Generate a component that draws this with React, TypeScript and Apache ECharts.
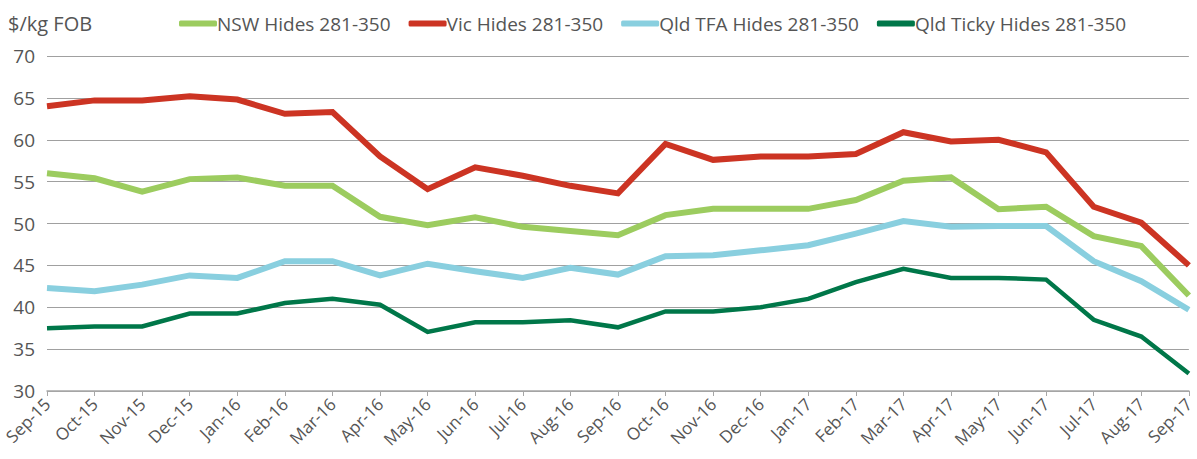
import React, { useEffect, useRef } from "react";
import * as echarts from "echarts";

const months = [
  "Sep-15", "Oct-15", "Nov-15", "Dec-15", "Jan-16", "Feb-16", "Mar-16", "Apr-16", "May-16",
  "Jun-16", "Jul-16", "Aug-16", "Sep-16", "Oct-16", "Nov-16", "Dec-16", "Jan-17", "Feb-17",
  "Mar-17", "Apr-17", "May-17", "Jun-17", "Jul-17", "Aug-17", "Sep-17",
];

const nsw = [56.0, 55.4, 53.8, 55.3, 55.5, 54.5, 54.5, 50.8, 49.8, 50.75, 49.6, 49.1, 48.6, 51.0, 51.75, 51.75, 51.75, 52.8, 55.1, 55.5, 51.7, 52.0, 48.5, 47.3, 41.4];
const vic = [64.0, 64.7, 64.7, 65.2, 64.8, 63.1, 63.3, 58.0, 54.1, 56.7, 55.7, 54.5, 53.6, 59.5, 57.6, 58.0, 58.0, 58.3, 60.9, 59.8, 60.0, 58.5, 52.0, 50.1, 45.0];
const qldTfa = [42.3, 41.9, 42.7, 43.8, 43.5, 45.5, 45.5, 43.8, 45.2, 44.3, 43.5, 44.7, 43.9, 46.1, 46.2, 46.8, 47.4, 48.8, 50.3, 49.6, 49.7, 49.7, 45.5, 43.1, 39.7];
const qldTicky = [37.5, 37.7, 37.7, 39.25, 39.25, 40.5, 41.0, 40.3, 37.05, 38.2, 38.2, 38.45, 37.6, 39.5, 39.5, 40.0, 41.0, 43.0, 44.6, 43.5, 43.5, 43.3, 38.5, 36.5, 32.1];

const seriesNames = ["NSW Hides 281-350", "Vic Hides 281-350", "Qld TFA Hides 281-350", "Qld Ticky Hides 281-350"];
const colors = ["#9ccc5f", "#cc3423", "#89cfdf", "#007749"];
const widths = [6, 6, 6, 4.5];

const FONT = "Open Sans";

export default function App() {
  const ref = useRef<HTMLDivElement>(null);
  useEffect(() => {
    if (!ref.current) return;
    const chart = echarts.init(ref.current, undefined, { renderer: "svg" });
    const data = [nsw, vic, qldTfa, qldTicky];
    chart.setOption({
      animation: false,
      textStyle: { fontFamily: FONT },
      graphic: [
        {
          type: "text",
          left: 8,
          top: 13,
          style: { text: "$/kg FOB", font: `20px "${FONT}"`, fill: "#555" },
        },
      ],
      legend: {
        top: 9,
        left: 174,
        itemWidth: 38,
        itemHeight: 6,
        itemGap: 18,
        icon: "roundRect",
        textStyle: { fontSize: 19, color: "#555", fontFamily: FONT, padding: [0, 0, 0, -5] },
        data: seriesNames,
      },
      grid: { left: 47, right: 7, top: 56, bottom: 68, containLabel: false },
      xAxis: {
        type: "category",
        data: months,
        boundaryGap: false,
        axisLine: { lineStyle: { color: "#a6a6a6", width: 1.5 } },
        axisTick: { show: true, alignWithLabel: true, length: 5, lineStyle: { color: "#a6a6a6" } },
        axisLabel: { rotate: 45, fontSize: 17, color: "#555", margin: 10, interval: 0, fontFamily: FONT },
      },
      yAxis: {
        type: "value",
        min: 30,
        max: 70,
        interval: 5,
        axisLine: { show: false },
        axisTick: { show: false },
        axisLabel: { fontSize: 19, color: "#555", margin: 12, fontFamily: FONT },
        splitLine: { lineStyle: { color: "#a0a0a0", width: 1.2 } },
      },
      series: seriesNames.map((name, i) => ({
        name,
        type: "line",
        data: data[i],
        symbol: "none",
        color: colors[i],
        lineStyle: { width: widths[i], color: colors[i], join: "miter" },
        z: 2 + i,
      })),
    });
    return () => chart.dispose();
  }, []);
  return <div ref={ref} style={{ position: "absolute", left: 0, top: 0, width: 1197, height: 459 }} />;
}
